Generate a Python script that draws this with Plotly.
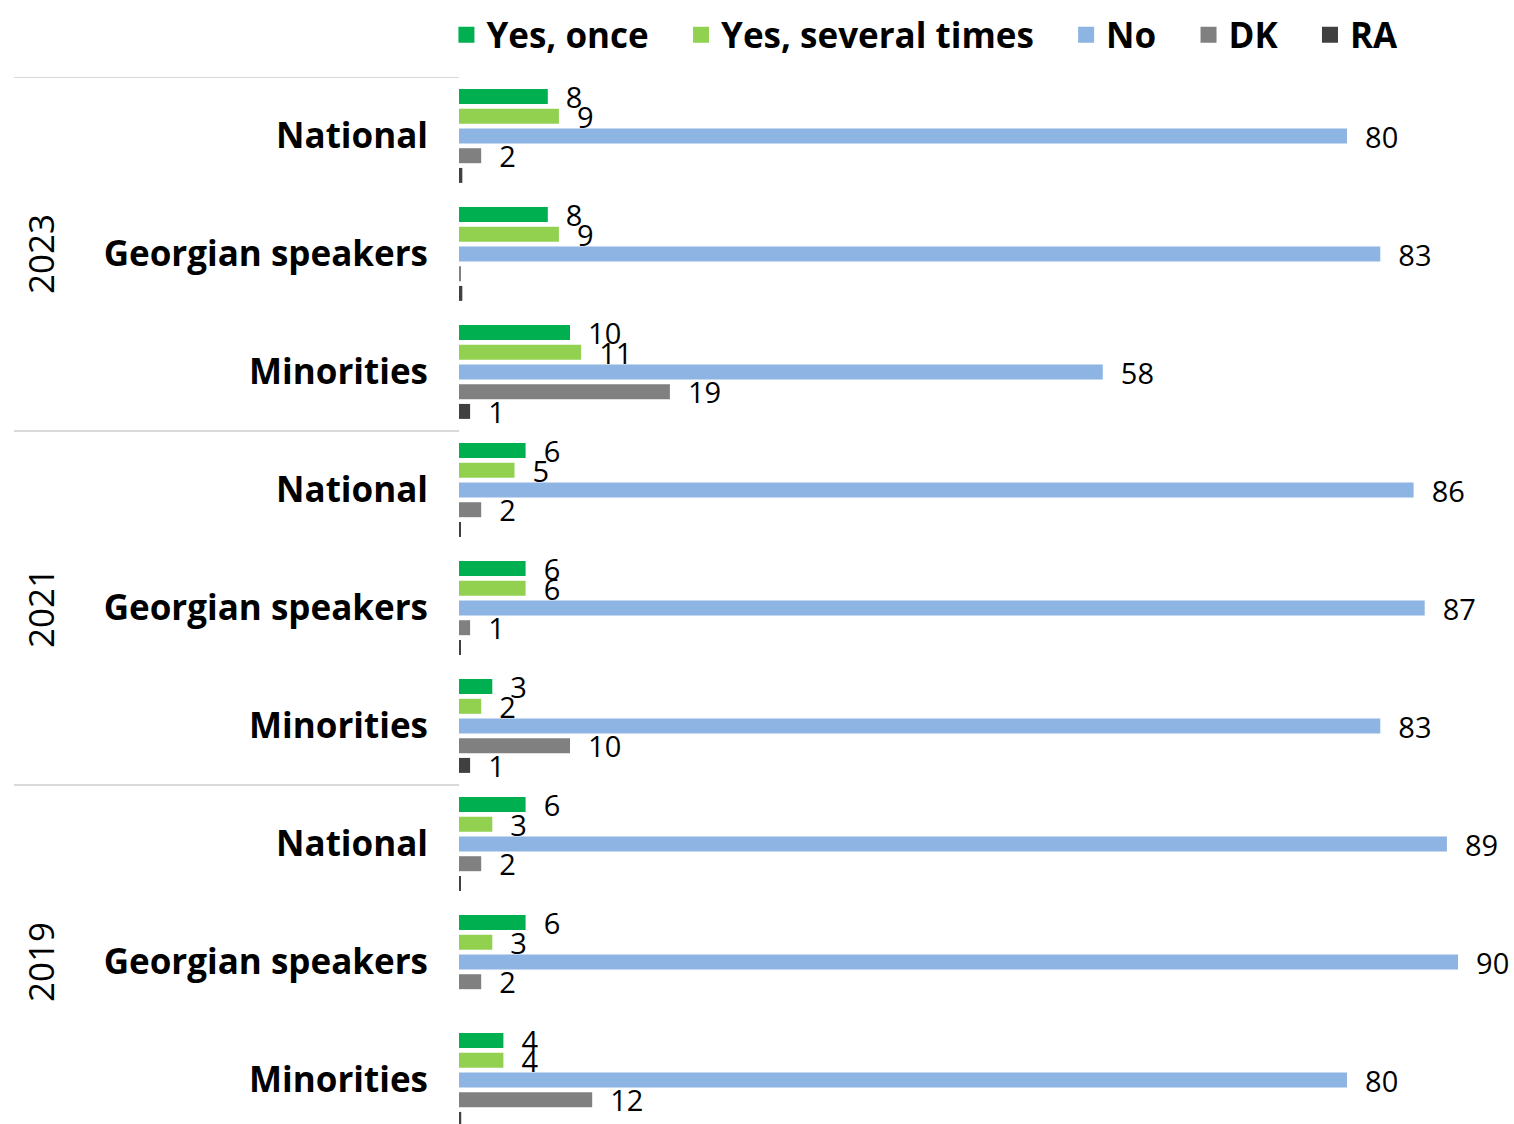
import plotly.graph_objects as go

groups = ["National", "Georgian speakers", "Minorities",
          "National", "Georgian speakers", "Minorities",
          "National", "Georgian speakers", "Minorities"]
years = ["2023", "2021", "2019"]

yes_once = [8, 8, 10, 6, 6, 3, 6, 6, 4]
yes_several = [9, 9, 11, 5, 6, 2, 3, 3, 4]
no = [80, 83, 58, 86, 87, 83, 89, 90, 80]
dk = [2, 0.1, 19, 2, 1, 10, 2, 2, 12]
ra = [0.3, 0.3, 1, 0.1, 0.1, 1, 0.1, 0, 0.2]

series = [
    ("Yes, once", yes_once, "#00b050"),
    ("Yes, several times", yes_several, "#92d050"),
    ("No", no, "#8db4e2"),
    ("DK", dk, "#808080"),
    ("RA", ra, "#404040"),
]

FONT = "Open Sans"
W, H = 1514, 1124
PLOT_L, PLOT_T = 459, 77
ML, MR, MT, MB = PLOT_L, 8, PLOT_T, 0
pw = W - ML - MR
ph = H - MT - MB
PX_PER_UNIT = 11.1
GROUP_PX = 118.0

def label(v):
    return "" if v < 0.5 else f"{v:.0f}"

fig = go.Figure()
pos = list(range(len(groups)))
for name, vals, col in series:
    fig.add_trace(go.Bar(
        y=pos, x=vals, name=name, orientation="h", legendgroup=name,
        showlegend=False,
        marker=dict(color=col, line=dict(width=0)),
        text=["  " + label(v) if label(v) else "" for v in vals],
        textposition="outside", constraintext="none", cliponaxis=False,
        textfont=dict(family=FONT, size=29, color="#000000"),
        hoverinfo="x+name",
    ))

# legend entries with larger square swatches
for name, vals, col in series:
    fig.add_trace(go.Scatter(
        x=[None], y=[None], mode="markers", legendgroup=name,
        name=name + "\u00a0\u00a0\u00a0",
        marker=dict(symbol="square", size=16, color=col),
        showlegend=True, hoverinfo="skip",
    ))

# year separators and labels
for k, yr in enumerate(years):
    fig.add_shape(type="line", xref="paper", yref="y",
                  x0=(14 - PLOT_L) / pw, x1=0, y0=3 * k - 0.5, y1=3 * k - 0.5,
                  line=dict(color="#d9d9d9", width=2))
    fig.add_annotation(text=yr, xref="paper", yref="y",
                       x=(40 - PLOT_L) / pw, y=3 * k + 1, textangle=-90,
                       showarrow=False, xanchor="center", yanchor="middle",
                       font=dict(family=FONT, size=35, color="#000000"))

fig.update_layout(
    width=W, height=H,
    margin=dict(l=ML, r=MR, t=MT, b=MB),
    paper_bgcolor="white", plot_bgcolor="white",
    barmode="group", bargap=0.165, bargroupgap=0.24,
    showlegend=True,
    legend=dict(orientation="h", x=-0.012, xanchor="left",
                y=1 + (PLOT_T - 35) / ph, yanchor="middle",
                font=dict(family=FONT, size=35, color="#000000", weight="bold"),
                itemwidth=30, traceorder="normal"),
    xaxis=dict(range=[0, pw / PX_PER_UNIT], visible=False, showgrid=False, zeroline=False),
    yaxis=dict(range=[-0.5 + ph / GROUP_PX, -0.5], tickvals=pos, ticktext=groups,
               showgrid=False, zeroline=False, showline=False,
               ticks="outside", ticklen=23, tickcolor="rgba(0,0,0,0)",
               tickfont=dict(family=FONT, size=35, color="#000000", weight="bold")),
)

# drop the default page margin so the figure fills the window exactly
fig.write_html("out.html",
               config={"displayModeBar": False},
               post_script="document.body.style.margin='0';"
                           "document.body.style.overflow='hidden';")
